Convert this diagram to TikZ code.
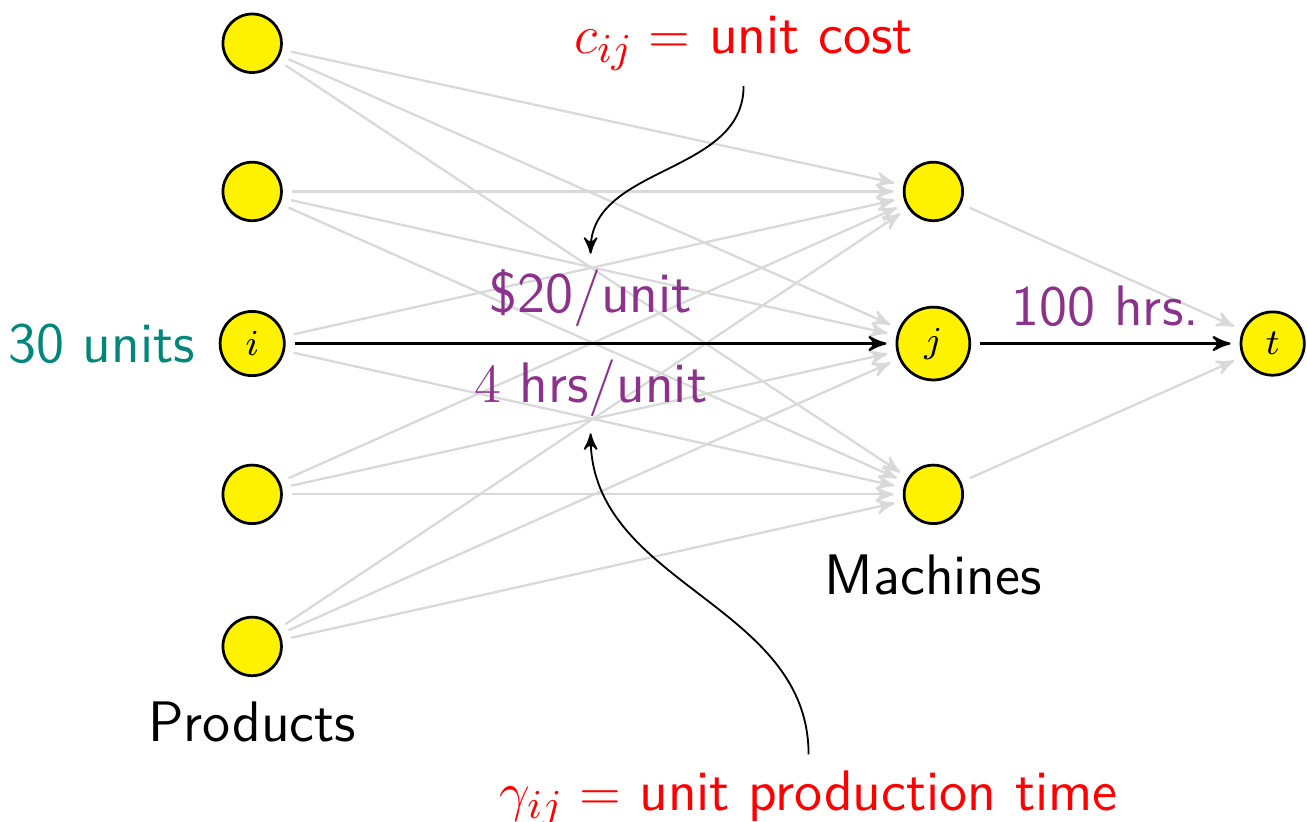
\documentclass[tikz,border=0pt]{standalone}
\usetikzlibrary{arrows,positioning}
\definecolor{unitsgreen}{RGB}{0,135,120}
\definecolor{labelpurple}{RGB}{140,50,140}
\tikzset{
  vertex/.style={circle,draw,semithick,fill=yellow,minimum size=0.45cm,
    inner sep=2.9pt,font=\fontsize{8}{9}\selectfont},
  faint/.style={draw=black!15,line width=0.5pt,->,>=stealth',shorten <=2pt,shorten >=2pt},
  flow/.style={draw=black,line width=0.5pt,->,>=stealth',shorten <=2pt,shorten >=2pt},
}
\begin{document}
\begin{tikzpicture}[font=\sffamily\fontsize{12.5}{15}\selectfont]
        \useasboundingbox (0,0) rectangle (10.054,6.323);
        \node[vertex] (p1) at (1.94,5.99) {};
        \node[vertex] (p2) at (1.94,4.85) {};
        \node[vertex] (p3) at (1.94,3.68) {$i$};
        \node[vertex] (p4) at (1.94,2.52) {};
        \node[vertex] (p5) at (1.94,1.35) {};
        \node[vertex] (m1) at (7.18,4.85) {};
        \node[vertex] (m2) at (7.18,3.68) {$j$};
        \node[vertex] (m3) at (7.18,2.52) {};
        \node[vertex] (t) at (9.79,3.68) {$t$};
        \node[text=unitsgreen,left=0.6mm of p3] (units) {30 units};
        \node (products) at (1.94,0.77) {Products};
        \node (machines) at (7.18,1.90) {Machines};
        \node[text=red] (cost) at (5.72,5.99) {$c_{ij} =$ unit cost};
        \node[text=red] (time) at (6.22,0.18) {$\gamma_{ij} =$ unit production time};
        \draw (p1) edge[faint] (m1) ;
        \draw (p1) edge[faint] (m2) ;
        \draw (p1) edge[faint] (m3) ;
        \draw (p2) edge[faint] (m1) ;
        \draw (p2) edge[faint] (m2) ;
        \draw (p2) edge[faint] (m3) ;
        \draw (p3) edge[faint] (m1) ;
        \draw (p3) edge[faint] (m3) ;
        \draw (p4) edge[faint] (m1) ;
        \draw (p4) edge[faint] (m2) ;
        \draw (p4) edge[faint] (m3) ;
        \draw (p5) edge[faint] (m1) ;
        \draw (p5) edge[faint] (m2) ;
        \draw (p5) edge[faint] (m3) ;
        \draw (m1) edge[faint] (t) ;
        \draw (m3) edge[faint] (t) ;
        \draw[flow] (p3) -- node[midway,above,text=labelpurple] (price) {\$20/unit}
                node[midway,below,text=labelpurple] (hours) {$4$ hrs/unit} (m2) ;
        \draw[flow] (m2) -- node[midway,above,text=labelpurple] (cap) {100 hrs.} (t) ;
        \draw[->,>=stealth'] (cost) to[out=-90,in=90] (price) ;
        \draw[->,>=stealth'] (time) to[out=90,in=-90] (hours) ;
      \end{tikzpicture}
\end{document}
